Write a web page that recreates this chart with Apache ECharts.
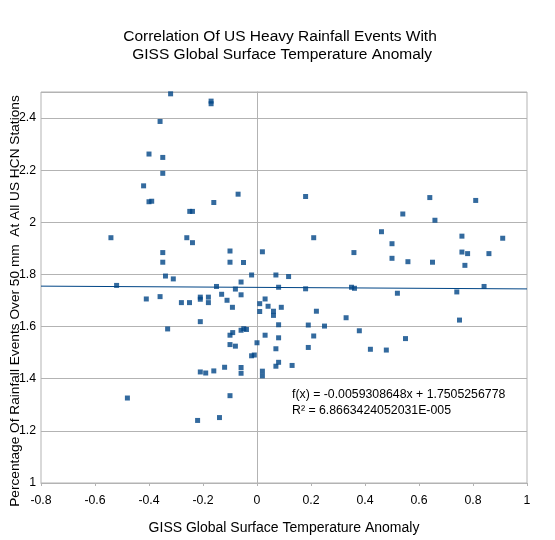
<!DOCTYPE html>
<html>
<head>
<meta charset="utf-8">
<script src="https://cdn.jsdelivr.net/npm/echarts@6/dist/echarts.min.js"></script>
<style>
html,body{margin:0;padding:0;background:#fff;}
#c{width:555px;height:540px;}
</style>
</head>
<body>
<div id="c"></div>
<script>
// GISS temperature anomaly (x)
var anomaly = [
-0.32,-0.17,-0.17,-0.359,-0.40,-0.349,-0.349,-0.42,-0.07,-0.40,
-0.39,-0.16,-0.249,-0.239,-0.541,-0.26,-0.239,-0.349,-0.10,0.02,
-0.349,-0.10,-0.05,-0.02,0.07,0.117,-0.339,-0.31,-0.059,-0.52,
-0.15,0.08,-0.08,-0.131,-0.059,-0.359,-0.41,-0.21,-0.21,-0.18,
-0.18,-0.111,-0.28,-0.25,-0.091,0.03,0.01,0.041,0.09,0.01,
0.061,0.061,-0.21,0.08,-0.331,-0.059,-0.049,-0.039,-0.09,-0.10,
0.03,0.08,0.0,-0.10,-0.08,0.07,-0.02,-0.01,0.08,0.07,
-0.12,-0.059,-0.16,-0.21,-0.19,-0.059,0.02,0.02,-0.10,-0.48,
-0.139,-0.22,0.18,0.64,0.81,0.54,0.659,0.461,0.21,0.759,
0.91,0.50,0.359,0.759,0.78,0.859,0.50,0.559,0.65,0.77,
0.18,0.35,0.361,0.52,0.74,0.841,0.22,0.33,0.75,0.19,
0.25,0.379,0.21,0.55,0.19,0.42,0.479,0.13
];
// Percentage of rainfall events over 50 mm (y)
var rainfallPct = [
2.493,2.465,2.455,2.387,2.262,2.249,2.188,2.140,2.108,2.079,
2.081,2.076,2.042,2.042,1.941,1.941,1.922,1.884,1.890,1.887,
1.847,1.847,1.846,1.798,1.798,1.792,1.794,1.783,1.771,1.758,
1.754,1.751,1.744,1.724,1.722,1.715,1.706,1.713,1.705,1.713,
1.692,1.701,1.692,1.692,1.674,1.706,1.688,1.678,1.674,1.658,
1.659,1.643,1.619,1.607,1.591,1.586,1.592,1.589,1.577,1.567,
1.567,1.557,1.538,1.531,1.525,1.515,1.488,1.491,1.463,1.448,
1.444,1.443,1.430,1.426,1.422,1.421,1.429,1.411,1.335,1.326,
1.251,1.240,2.099,2.095,2.084,2.032,2.008,1.964,1.941,1.947,
1.939,1.918,1.884,1.886,1.880,1.880,1.862,1.849,1.847,1.835,
1.745,1.751,1.747,1.728,1.733,1.754,1.659,1.634,1.625,1.606,
1.602,1.584,1.564,1.554,1.520,1.513,1.510,1.451
];
// Linear trend line (as reported on the chart)
var trendSlope = -0.0059308648;
var trendIntercept = 1.7505256778;
var trendXRange = [-0.8, 1];
var equationLines = ['f(x) = -0.0059308648x + 1.7505256778', 'R² = 6.8663424052031E-005'];
var yAxisTitle = 'Percentage Of Rainfall Events Over 50 mm  At All US HCN Stations';
var xAxisTitle = 'GISS Global Surface Temperature Anomaly';
var chartTitle = 'Correlation Of US Heavy Rainfall Events With\n GISS Global Surface Temperature Anomaly';

var points = anomaly.map(function(x, i){ return [x, rainfallPct[i]]; });
var trend = trendXRange.map(function(x){ return [x, trendSlope * x + trendIntercept]; });

var chart = echarts.init(document.getElementById('c'), null, {renderer:'canvas'});
var FONT = 'Liberation Sans, Arial, sans-serif';
var GRID = '#b3b3b3';
chart.setOption({
  animation:false,
  backgroundColor:'#ffffff',
  title:{
    text:chartTitle,
    left:275, top:22, textAlign:'center',
    textStyle:{fontFamily:FONT, fontSize:15.5, fontWeight:'normal', color:'#000', lineHeight:18.5}
  },
  grid:{left:41, right:28, top:92, bottom:53, show:true, borderColor:GRID, borderWidth:1, containLabel:false},
  xAxis:{
    type:'value', min:-0.8, max:1, interval:0.2,
    name:xAxisTitle, nameLocation:'middle', nameGap:38,
    nameTextStyle:{fontFamily:FONT, fontSize:14, color:'#000'},
    axisLine:{onZero:false, lineStyle:{color:GRID}},
    axisTick:{show:true, length:3, lineStyle:{color:GRID}},
    axisLabel:{fontFamily:FONT, fontSize:12.3, color:'#000', margin:12},
    splitLine:{show:false}
  },
  yAxis:{
    type:'value', min:1, max:2.5, interval:0.2,
    axisLine:{show:true, onZero:true, lineStyle:{color:GRID}},
    axisTick:{show:true, length:3, lineStyle:{color:GRID}},
    axisLabel:{fontFamily:FONT, fontSize:12.3, color:'#000', margin:5, showMaxLabel:false,
      formatter:function(v){ return v > 2.45 ? '' : String(Math.round(v*10)/10); }},
    splitLine:{show:true, lineStyle:{color:GRID, width:1}}
  },
  series:[{
    type:'line', data:trend, symbol:'none', silent:true,
    lineStyle:{color:'#004586', width:1}, z:1
  },{
    type:'scatter', data:points, symbol:'rect', symbolSize:5,
    itemStyle:{color:'#004586'}, z:3
  }],
  graphic:[{
    type:'text', left:292, top:387,
    style:{text:equationLines.join('\n'), fontFamily:FONT, fontSize:12.3, fill:'#000', lineHeight:16}
  },{
    type:'text', x:15, y:301, rotation:Math.PI/2,
    style:{text:yAxisTitle, fontFamily:FONT, fontSize:13.7, fill:'#000', align:'center', verticalAlign:'middle'}
  }]
});
</script>
</body>
</html>
